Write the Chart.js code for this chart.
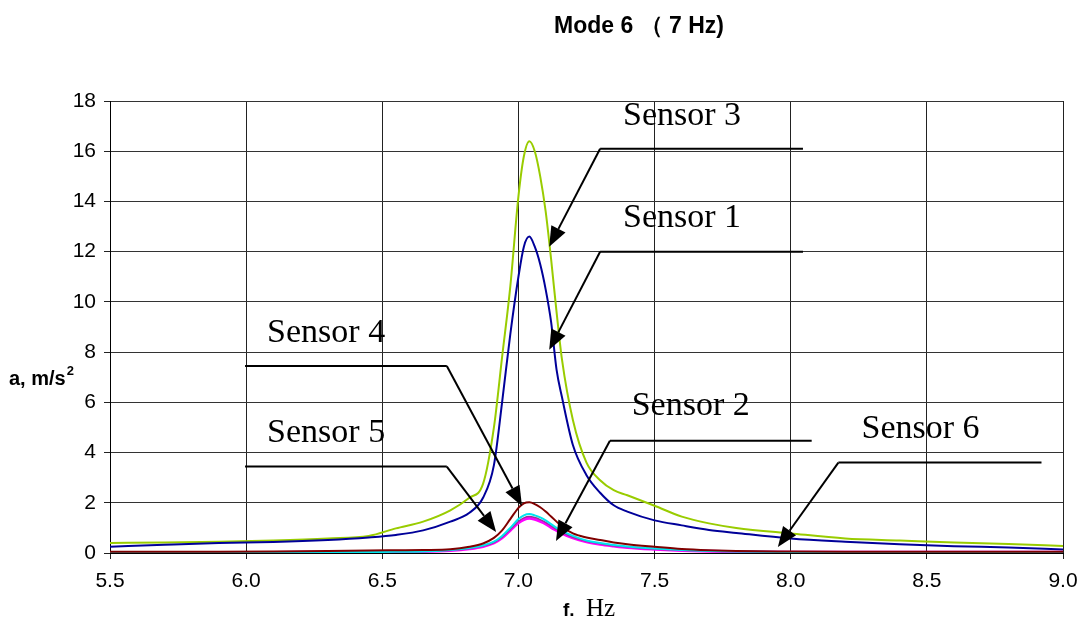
<!DOCTYPE html>
<html><head><meta charset="utf-8">
<script src="https://cdn.jsdelivr.net/npm/chart.js@4"></script>
<style>html,body{margin:0;padding:0;background:#fff}canvas{display:block}</style>
</head><body>
<canvas id="c" width="1083" height="621"></canvas>
<script>
// ---- data ----
const freqHz = [5.5, 5.7, 5.9, 6.1, 6.3, 6.45, 6.55, 6.65, 6.75, 6.82, 6.87, 6.91, 6.94, 6.97, 7.0, 7.02, 7.04, 7.06, 7.08, 7.1, 7.12, 7.14, 7.16, 7.2, 7.25, 7.3, 7.35, 7.4, 7.5, 7.6, 7.7, 7.8, 8.0, 8.2, 8.4, 8.6, 8.8, 9.0];
const sensor3 = [0.40, 0.42, 0.45, 0.50, 0.58, 0.68, 0.98, 1.25, 1.70, 2.20, 2.75, 5.0, 7.8, 10.6, 14.2, 15.8, 16.4, 16.0, 15.0, 13.6, 11.7, 9.6, 7.7, 5.3, 3.6, 2.9, 2.5, 2.3, 1.88, 1.45, 1.18, 1.0, 0.78, 0.58, 0.50, 0.42, 0.36, 0.28];
const sensor1 = [0.25, 0.33, 0.40, 0.44, 0.52, 0.62, 0.72, 0.90, 1.25, 1.60, 2.20, 3.5, 6.0, 8.7, 11.0, 12.2, 12.6, 12.2, 11.5, 10.5, 9.2, 7.3, 6.2, 4.3, 3.1, 2.4, 1.9, 1.65, 1.3, 1.1, 0.92, 0.80, 0.58, 0.45, 0.35, 0.27, 0.22, 0.14];
const sensor2 = [0.05, 0.05, 0.05, 0.06, 0.08, 0.10, 0.11, 0.12, 0.15, 0.25, 0.38, 0.60, 0.90, 1.35, 1.80, 1.98, 2.02, 1.95, 1.82, 1.65, 1.45, 1.25, 1.05, 0.78, 0.62, 0.52, 0.42, 0.35, 0.25, 0.16, 0.11, 0.08, 0.06, 0.05, 0.05, 0.05, 0.05, 0.05];
const sensor4 = [0.02, 0.02, 0.02, 0.03, 0.03, 0.04, 0.05, 0.06, 0.12, 0.20, 0.30, 0.45, 0.68, 1.00, 1.35, 1.50, 1.55, 1.50, 1.42, 1.30, 1.15, 1.00, 0.88, 0.68, 0.50, 0.40, 0.32, 0.26, 0.18, 0.12, 0.08, 0.06, 0.04, 0.03, 0.03, 0.03, 0.03, 0.03];
const sensor5 = [0.02, 0.02, 0.02, 0.02, 0.03, 0.04, 0.05, 0.06, 0.11, 0.18, 0.28, 0.42, 0.63, 0.94, 1.26, 1.40, 1.45, 1.41, 1.33, 1.22, 1.08, 0.94, 0.82, 0.63, 0.47, 0.37, 0.29, 0.24, 0.16, 0.11, 0.07, 0.05, 0.03, 0.03, 0.03, 0.03, 0.03, 0.03];
const sensor6 = [0.02, 0.02, 0.02, 0.02, 0.03, 0.04, 0.05, 0.06, 0.10, 0.17, 0.26, 0.40, 0.60, 0.90, 1.20, 1.33, 1.38, 1.34, 1.26, 1.16, 1.02, 0.90, 0.78, 0.60, 0.45, 0.35, 0.28, 0.22, 0.15, 0.10, 0.07, 0.05, 0.03, 0.03, 0.03, 0.03, 0.03, 0.03];
const xTickValues = [5.5, 6.0, 6.5, 7.0, 7.5, 8.0, 8.5, 9.0];
const yTickValues = [0, 2, 4, 6, 8, 10, 12, 14, 16, 18];
const chartTitle = 'Mode 6 （ 7 Hz)';

// callouts in data coordinates
const callouts = [
  {label: 'Sensor 3', tx: 7.384, ty: 17.05, ly: 16.1, lx0: 7.30, lx1: 8.045, from: 'left', ax: 7.113, ay: 12.2},
  {label: 'Sensor 1', tx: 7.384, ty: 13.0, ly: 12.0, lx0: 7.30, lx1: 8.045, from: 'left', ax: 7.113, ay: 8.09},
  {label: 'Sensor 4', tx: 6.077, ty: 8.42, ly: 7.45, lx0: 5.996, lx1: 6.737, from: 'right', ax: 7.013, ay: 1.87},
  {label: 'Sensor 5', tx: 6.077, ty: 4.43, ly: 3.44, lx0: 5.996, lx1: 6.737, from: 'right', ax: 6.918, ay: 0.84},
  {label: 'Sensor 2', tx: 7.416, ty: 5.5, ly: 4.47, lx0: 7.336, lx1: 8.077, from: 'left', ax: 7.138, ay: 0.48},
  {label: 'Sensor 6', tx: 8.260, ty: 4.58, ly: 3.6, lx0: 8.175, lx1: 8.921, from: 'left', ax: 7.953, ay: 0.24}
];

const pts = arr => freqHz.map((f, i) => ({x: f, y: arr[i]}));
const ds = (label, arr, color, w, order) => ({
  label, data: pts(arr), borderColor: color, backgroundColor: color, borderWidth: w,
  pointRadius: 0, cubicInterpolationMode: 'monotone', fill: false, order
});

const SANS = '"Liberation Sans", Arial, sans-serif';
const SERIF = '"Liberation Serif", "Times New Roman", serif';

const decor = {
  id: 'decor',
  afterDraw(chart) {
    const ctx = chart.ctx, xs = chart.scales.x, ys = chart.scales.y;
    ctx.save();
    // title
    ctx.fillStyle = '#000';
    ctx.font = 'bold 23px ' + SANS;
    ctx.textAlign = 'center';
    ctx.textBaseline = 'alphabetic';
    ctx.fillText(chartTitle, 639, 33);
    // y title
    ctx.textAlign = 'left';
    ctx.font = 'bold 20px ' + SANS;
    const yl = 'a, m/s';
    ctx.fillText(yl, 9, 385);
    const w = ctx.measureText(yl).width;
    ctx.font = 'bold 13px ' + SANS;
    ctx.fillText('2', 9 + w + 1, 375);
    // x title
    ctx.font = 'bold 19px ' + SANS;
    ctx.fillText('f.', 563, 616);
    ctx.font = '25px ' + SERIF;
    ctx.fillText('Hz', 586, 616);
    // callouts
    ctx.strokeStyle = '#000';
    ctx.fillStyle = '#000';
    ctx.lineWidth = 2;
    for (const c of callouts) {
      ctx.font = '34px ' + SERIF;
      ctx.textAlign = 'left';
      ctx.fillText(c.label, xs.getPixelForValue(c.tx), ys.getPixelForValue(c.ty));
      const y = ys.getPixelForValue(c.ly);
      const x0 = xs.getPixelForValue(c.lx0), x1 = xs.getPixelForValue(c.lx1);
      const sx = c.from === 'left' ? x0 : x1;
      const tx = xs.getPixelForValue(c.ax), ty = ys.getPixelForValue(c.ay);
      ctx.beginPath();
      ctx.moveTo(x1, y); ctx.lineTo(x0, y);
      ctx.stroke();
      const ang = Math.atan2(ty - y, tx - sx);
      const L = 20, H = 8;
      const bx = tx - L * Math.cos(ang), by = ty - L * Math.sin(ang);
      ctx.beginPath();
      ctx.moveTo(sx, y); ctx.lineTo(bx, by);
      ctx.stroke();
      ctx.beginPath();
      ctx.moveTo(tx, ty);
      ctx.lineTo(bx + H * Math.sin(ang), by - H * Math.cos(ang));
      ctx.lineTo(bx - H * Math.sin(ang), by + H * Math.cos(ang));
      ctx.closePath();
      ctx.fill();
    }
    ctx.restore();
  }
};

new Chart(document.getElementById('c'), {
  type: 'line',
  data: {
    datasets: [
      ds('Sensor 3', sensor3, '#99cc00', 2, 6),
      ds('Sensor 1', sensor1, '#000099', 2, 5),
      ds('Sensor 6', sensor6, '#ff00ff', 3, 4),
      ds('Sensor 5', sensor5, '#993399', 1.5, 3),
      ds('Sensor 4', sensor4, '#00e5ee', 2, 2),
      ds('Sensor 2', sensor2, '#800000', 2, 1)
    ]
  },
  options: {
    responsive: false,
    animation: false,
    devicePixelRatio: 1,
    layout: {padding: {top: 101, right: 0, left: 0, bottom: 0}},
    plugins: {legend: {display: false}, tooltip: {enabled: false}, title: {display: false}},
    scales: {
      x: {
        type: 'linear', min: 5.5, max: 9.0,
        afterBuildTicks: s => { s.ticks = xTickValues.map(v => ({value: v})); },
        afterFit: s => { s.height = 68; s.paddingRight = 20; s.paddingLeft = 0; },
        grid: {color: '#222', lineWidth: 1, tickLength: 6, tickColor: '#222'},
        border: {color: '#000', width: 1},
        ticks: {color: '#000', font: {family: SANS, size: 21}, padding: 10, maxRotation: 0,
                callback: v => Number(v).toFixed(1)}
      },
      y: {
        type: 'linear', min: 0, max: 18,
        afterBuildTicks: s => { s.ticks = yTickValues.map(v => ({value: v})); },
        afterFit: s => { s.width = 110; },
        grid: {color: '#333', lineWidth: 1, tickLength: 6, tickColor: '#222'},
        border: {color: '#000', width: 1},
        ticks: {color: '#000', font: {family: SANS, size: 21}, padding: 8}
      }
    }
  },
  plugins: [decor]
});
</script>
</body></html>
